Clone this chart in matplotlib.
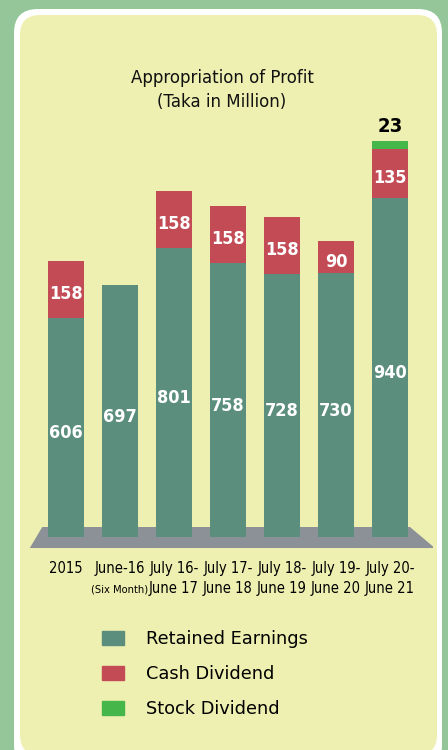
import os
import matplotlib
matplotlib.use("Agg")
import matplotlib.pyplot as plt
from matplotlib import font_manager
from matplotlib.font_manager import FontProperties
from matplotlib.patches import FancyBboxPatch, Polygon, Patch
import numpy as np

periods = ["2015", "June-16", "July 16-\nJune 17", "July 17-\nJune 18",
           "July 18-\nJune 19", "July 19-\nJune 20", "July 20-\nJune 21"]
retained = [606, 697, 801, 758, 728, 730, 940]
cash_div = [158, 0, 158, 158, 158, 90, 135]
stock_div = [0, 0, 0, 0, 0, 0, 23]

TEAL = "#5B8E7D"
RED = "#C24B55"
GREEN = "#45B649"
FLOOR = "#8C9198"
PANEL = "#EEF0B1"
OUTER = "#94C69A"


def pick_font(names):
    files = {os.path.basename(f.fname): f.fname for f in font_manager.fontManager.ttflist}
    for n in names:
        if n in files:
            return files[n]
    return None


reg_file = pick_font(["LiberationSansNarrow-Regular.ttf", "DejaVuSansCondensed.ttf",
                      "RobotoCondensed-Regular.ttf", "OpenSans_Condensed-Regular.ttf"])
bold_file = pick_font(["LiberationSansNarrow-Bold.ttf", "DejaVuSansCondensed-Bold.ttf",
                       "RobotoCondensed-Bold.ttf", "OpenSans_Condensed-Bold.ttf"])


def narrow(size, bold=False):
    f = bold_file if bold else reg_file
    if f:
        return FontProperties(fname=f, size=size)
    return FontProperties(family="Roboto", size=size * 0.85,
                          weight="bold" if bold else "normal")


W, H = 448, 750
fig = plt.figure(figsize=(W / 100, H / 100), dpi=100, facecolor=OUTER)

# background panel in pixel space
bg = fig.add_axes([0, 0, 1, 1], zorder=0)
bg.set_xlim(0, W)
bg.set_ylim(H, 0)
bg.axis("off")
bg.add_patch(FancyBboxPatch((14 + 24, 9 + 24), 428 - 48, 760 - 48,
                            boxstyle="round,pad=24", fc="white", ec="none"))
bg.add_patch(FancyBboxPatch((20 + 20, 15 + 20), 417 - 40, 740 - 40,
                            boxstyle="round,pad=20", fc=PANEL, ec="none"))

# chart axes
ax = fig.add_axes([22.8 / W, 150 / H, 410.4 / W, 540 / H], zorder=1)
ax.patch.set_alpha(0)
ax.set_xlim(-0.8, 6.8)
ax.set_ylim(-174.5, 1321.3)
ax.axis("off")

x = np.arange(len(periods))
width = 0.685

# floor
ax.add_patch(Polygon([(-0.44, 27.7), (6.37, 27.7), (6.83, -30.5), (-0.67, -30.5)],
                     closed=True, fc=FLOOR, ec="none", zorder=1))

ret = np.array(retained)
cash = np.array(cash_div)
stock = np.array(stock_div)
ax.bar(x, ret, width, color=TEAL, zorder=2)
ax.bar(x, cash, width, bottom=ret, color=RED, zorder=2)
ax.bar(x, stock, width, bottom=ret + cash, color=GREEN, zorder=2)

for i in x:
    ax.text(i, ret[i] / 2 - 15, str(ret[i]), ha="center", va="center",
            color="white", fontproperties=narrow(13, True), zorder=3)
    if cash[i] > 0:
        ax.text(i, ret[i] + cash[i] / 2 - 12, str(cash[i]), ha="center", va="center",
                color="white", fontproperties=narrow(13, True), zorder=3)
    if stock[i] > 0:
        ax.annotate(str(stock[i]), (i, ret[i] + cash[i] + stock[i]),
                    xytext=(0, 10), textcoords="offset points", ha="center",
                    va="center", fontproperties=narrow(14.5, True))

# category labels
for i, lab in enumerate(periods):
    ax.annotate(lab, (i, 0), xytext=(0, -17.5), textcoords="offset points",
                ha="center", va="top", fontproperties=narrow(10.5), linespacing=1.35)
ax.annotate("(Six Month)", (1, 0), xytext=(0, -34), textcoords="offset points",
            ha="center", va="top", fontproperties=narrow(8))

fig.text(222 / W, 1 - 90 / H, "Appropriation of Profit\n(Taka in Million)",
         ha="center", va="center", fontsize=12, linespacing=1.45, color="#111111")

handles = [Patch(color=TEAL), Patch(color=RED), Patch(color=GREEN)]
fig.legend(handles, ["Retained Earnings", "Cash Dividend", "Stock Dividend"],
           loc="upper left", bbox_to_anchor=(102 / W, 1 - 630 / H),
           frameon=False, fontsize=12.8, handlelength=1.24, handleheight=0.84,
           handletextpad=1.25, labelspacing=0.95, borderpad=0, borderaxespad=0)

fig.savefig("out.png", dpi=100, facecolor=OUTER)
